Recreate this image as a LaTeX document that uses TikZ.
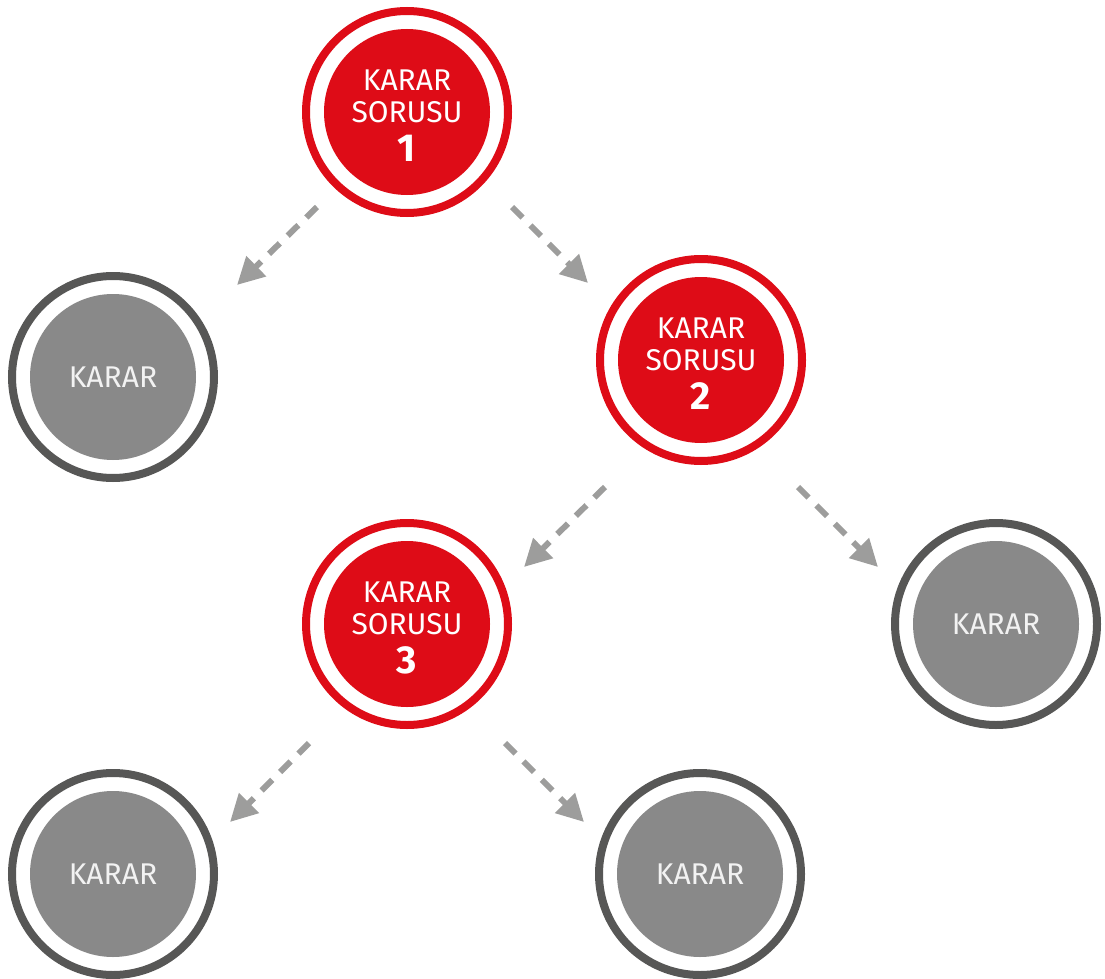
\documentclass[tikz,border=0pt]{standalone}
\usepackage{fontspec}
\setmainfont{Fira Sans}
\usepackage{tikz}
\usetikzlibrary{arrows.meta}
\definecolor{qred}{HTML}{DE0C17}
\definecolor{dring}{HTML}{575756}
\definecolor{dfill}{HTML}{898989}
\definecolor{flowgray}{HTML}{9D9D9C}
\definecolor{dtext}{HTML}{F2F2F2}
\newcommand{\qtext}[1]{\rule{0pt}{28pt}KARAR\\SORUSU\\[7pt]{\bfseries\fontsize{39}{32}\selectfont #1}}

\begin{document}
\begin{tikzpicture}[x=1pt, y=-1pt,
    ringed/.style={circle, minimum size=202pt, inner sep=0pt, line width=8pt,
        fill=white, font=\fontsize{30}{32}\selectfont,
        path picture={\fill[#1] (path picture bounding box.center) circle (83pt);}},
    question/.style={ringed=qred, draw=qred, text=white, align=center},
    decision/.style={ringed=dfill, draw=dring, text=dtext},
    flow/.style={draw=flowgray, line width=6pt, dash pattern=on 15pt off 11pt,
        -{Triangle[length=27pt, width=27pt]}}]
        \useasboundingbox (0, 0) rectangle (1105, 979);

        \node [question] (q1) at (407, 112) {\qtext{1}};
        \node [question] (q2) at (701, 360) {\qtext{2}};
        \node [question] (q3) at (407, 624) {\qtext{3}};

        \node [decision] (d1) at (113, 377) {KARAR};
        \node [decision] (d2) at (996, 624) {KARAR};
        \node [decision] (d3) at (113, 874) {KARAR};
        \node [decision] (d4) at (700, 874) {KARAR};

        % dashed arrows between the rings
        \draw [flow] ([shift={(-90, 95)}]q1.center) -- ([shift={(124, -92)}]d1.center);
        \draw [flow] ([shift={(105, 95)}]q1.center) -- ([shift={(-113, -77)}]q2.center);
        \draw [flow] ([shift={(-96, 127)}]q2.center) -- ([shift={(117, -57)}]q3.center);
        \draw [flow] ([shift={(97, 127)}]q2.center) -- ([shift={(-118, -57)}]d2.center);
        \draw [flow] ([shift={(-98, 119)}]q3.center) -- ([shift={(117, -52)}]d3.center);
        \draw [flow] ([shift={(98, 119)}]q3.center) -- ([shift={(-116, -52)}]d4.center);
    \end{tikzpicture}
\end{document}
